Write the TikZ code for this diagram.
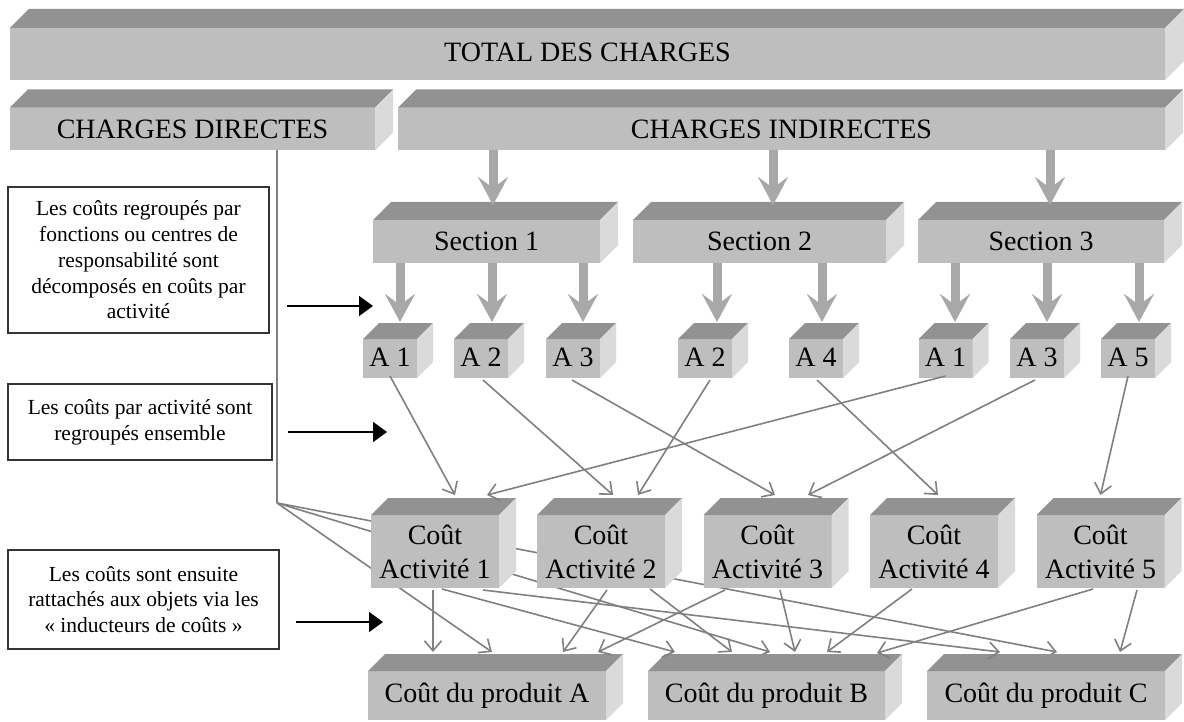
\documentclass[tikz,border=0pt]{standalone}
\usepackage{fontspec}
\setmainfont{Liberation Serif}
\usetikzlibrary{arrows.meta,calc}
\definecolor{frontc}{RGB}{190,190,190}
\definecolor{topc}{RGB}{146,146,146}
\definecolor{sidec}{RGB}{218,218,218}
\definecolor{fatc}{RGB}{168,168,168}
\definecolor{thinc}{RGB}{128,128,128}
\pgfdeclarelayer{bottom}
\pgfdeclarelayer{background}
\pgfsetlayers{bottom,background,main}
\newcommand\cubefaces[2]{%
  \fill[topc] (#1.north west) -- ++(#2,-#2) -- ([shift={(#2,-#2)}]#1.north east) -- (#1.north east) -- cycle;
  \fill[sidec] (#1.north east) -- ++(#2,-#2) -- ([shift={(#2,-#2)}]#1.south east) -- (#1.south east) -- cycle;}
\begin{document}
\begin{tikzpicture}[x=1pt,y=-1pt,
  cube/.style={fill=frontc, inner sep=0pt, outer sep=0pt, font=\fontsize{28}{34}\selectfont, align=center},
  note/.style={draw=black!80, line width=1.1pt, fill=white, inner sep=0pt, outer sep=0pt, align=center, font=\fontsize{21.5}{25.7}\selectfont},
  fat/.style={draw=fatc, line width=9pt, -{Stealth[length=28pt,width=30pt,inset=11pt]}},
  thin/.style={draw=thinc, line width=1.6pt, -{Straight Barb[length=10pt,width=17pt]}},
  plain/.style={draw=thinc, line width=1.6pt},
  pointer/.style={draw=black, line width=1.4pt, -{Triangle[length=14pt,width=20pt]}}]
\begin{pgfonlayer}{bottom}
\fill[white] (0,0) rectangle (1184,722);
\end{pgfonlayer}
\useasboundingbox (0,0) rectangle (1184,722);

% top levels
\node[cube, minimum width=1155, minimum height=52] (total) at (587.5,54) {\raisebox{4pt}{TOTAL DES CHARGES}};
\cubefaces{total}{19}
\node[cube, minimum width=365, minimum height=43] (direct) at (192.5,129) {CHARGES DIRECTES};
\cubefaces{direct}{18}
\node[cube, minimum width=767, minimum height=43] (indirect) at (781.5,129) {CHARGES INDIRECTES};
\cubefaces{indirect}{18}

% sections
\node[cube, minimum width=227, minimum height=43] (sec1) at (486.5,241.5) {Section 1};
\cubefaces{sec1}{18}
\node[cube, minimum width=253, minimum height=43] (sec2) at (759.5,241.5) {Section 2};
\cubefaces{sec2}{18}
\node[cube, minimum width=246, minimum height=43] (sec3) at (1041,241.5) {Section 3};
\cubefaces{sec3}{18}

% activities
\foreach \n/\x/\t in {aa/390/A 1, ab/481/A 2, ac/573/A 3, ad/705/A 2, ae/816/A 4, af/945.5/A 1, ag/1037/A 3, ah/1128/A 5}{
  \node[cube, minimum width=54, minimum height=39] (\n) at (\x,358.5) {\raisebox{2pt}{\t}};
  \cubefaces{\n}{16}
}

% activity costs
\foreach \n/\x/\k in {ca1/435/1, ca2/601/2, ca3/767.5/3, ca4/934/4, ca5/1100.5/5}{
  \node[cube, minimum width=128, minimum height=73] (\n) at (\x,551.5) {Coût\\Activité \k};
  \cubefaces{\n}{17}
}

% products
\node[cube, minimum width=238, minimum height=49] (pa) at (487,695.5) {Coût du produit A};
\cubefaces{pa}{17}
\node[cube, minimum width=237, minimum height=49] (pb) at (766.5,695.5) {Coût du produit B};
\cubefaces{pb}{17}
\node[cube, minimum width=238, minimum height=49] (pc) at (1046,695.5) {Coût du produit C};
\cubefaces{pc}{17}

% notes
\node[note, minimum width=261, minimum height=146] (n1) at (138.5,260) {Les coûts regroupés par\\fonctions ou centres de\\responsabilité sont\\décomposés en coûts par\\activité};
\node[note, minimum width=264, minimum height=76] (n2) at (140,422) {Les coûts par activité sont\\regroupés ensemble};
\node[note, minimum width=271, minimum height=99] (n3) at (143.5,599.5) {Les coûts sont ensuite\\rattachés aux objets via les\\« inducteurs de coûts »};
\coordinate (p1) at (373,306);
\coordinate (p2) at (387,432);
\coordinate (p3) at (383,622);
\draw[pointer] ([shift={(18,46)}]n1.east) -- (p1);
\draw[pointer] ([shift={(16,10)}]n2.east) -- (p2);
\draw[pointer] ([shift={(17,22.5)}]n3.east) -- (p3);

% direct charges
\coordinate (dj) at (277,503);
\draw[plain] ([xshift=84.5]direct.south) -- (dj);
\begin{pgfonlayer}{background}
\draw[thin] (dj) -- ([shift={(5,-19)}]pa.north);
\draw[thin] (dj) -- ([shift={(3.5,-19)}]pb.north);
\draw[thin] (dj) -- ([shift={(11,-19)}]pc.north);
\end{pgfonlayer}

% thick arrows
\draw[fat] ([xshift=-288.5]indirect.south) -- ([shift={(6.5,-15)}]sec1.north);
\draw[fat] ([xshift=-8.5]indirect.south) -- ([shift={(13.5,-15)}]sec2.north);
\draw[fat] ([xshift=268.5]indirect.south) -- ([shift={(9,-15)}]sec3.north);
\draw[fat] ([xshift=-86.5]sec1.south) -- ([shift={(10,-17)}]aa.north);
\draw[fat] ([xshift=5.5]sec1.south) -- ([shift={(11,-17)}]ab.north);
\draw[fat] ([xshift=96.5]sec1.south) -- ([shift={(10,-17)}]ac.north);
\draw[fat] ([xshift=-42.5]sec2.south) -- ([shift={(12,-17)}]ad.north);
\draw[fat] ([xshift=62.5]sec2.south) -- ([shift={(6,-17)}]ae.north);
\draw[fat] ([xshift=-86]sec3.south) -- ([shift={(9.5,-17)}]af.north);
\draw[fat] ([xshift=6]sec3.south) -- ([shift={(10,-17)}]ag.north);
\draw[fat] ([xshift=98]sec3.south) -- ([shift={(11,-17)}]ah.north);

% activities to activity costs
\draw[thin] ([yshift=2]aa.south) -- ([shift={(20,-20)}]ca1.north);
\draw[thin] ([yshift=2]af.south) -- ([shift={(52,-20)}]ca1.north);
\draw[thin] ([shift={(2,2)}]ab.south) -- ([shift={(12,-20)}]ca2.north);
\draw[thin] ([shift={(5,2)}]ad.south) -- ([shift={(37,-20)}]ca2.north);
\draw[thin] ([shift={(-1,2)}]ac.south) -- ([shift={(7.5,-20)}]ca3.north);
\draw[thin] ([shift={(-2,2)}]ag.south) -- ([shift={(40.5,-20)}]ca3.north);
\draw[thin] ([shift={(1,2)}]ae.south) -- ([shift={(4,-20)}]ca4.north);
\draw[thin] ([yshift=2]ah.south) -- ([shift={(0,-20)}]ca5.north);

% activity costs to products
\draw[thin] ([shift={(-2,2)}]ca1.south) -- ([shift={(-54,-19)}]pa.north);
\draw[thin] ([shift={(7,1)}]ca1.south) -- ([shift={(-91.5,-19)}]pb.north);
\draw[thin] ([shift={(48,2)}]ca1.south) -- ([shift={(-46,-19)}]pc.north);
\draw[thin] ([shift={(6,2)}]ca2.south) -- ([shift={(76,-19)}]pa.north);
\draw[thin] ([shift={(49,1)}]ca2.south) -- ([shift={(-34.5,-19)}]pb.north);
\draw[thin] ([shift={(-42.5,2)}]ca3.south) -- ([shift={(111,-19)}]pa.north);
\draw[thin] ([shift={(12.5,2)}]ca3.south) -- ([shift={(28.5,-19)}]pb.north);
\draw[thin] ([shift={(-22,1)}]ca4.south) -- ([shift={(60.5,-19)}]pb.north);
\draw[thin] ([shift={(-7.5,1)}]ca5.south) -- ([shift={(110.5,-18)}]pb.north);
\draw[thin] ([shift={(36.5,2)}]ca5.south) -- ([shift={(74,-19)}]pc.north);
\end{tikzpicture}
\end{document}
